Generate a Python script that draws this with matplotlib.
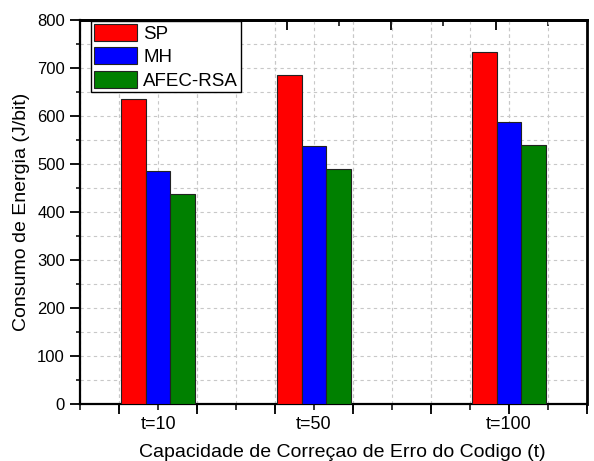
import numpy as np
import matplotlib
matplotlib.use("Agg")
import matplotlib.pyplot as plt
from matplotlib.ticker import MultipleLocator, NullFormatter, FuncFormatter

plt.rcParams['font.family'] = ['Liberation Sans', 'DejaVu Sans']

# data
t_values = [10, 50, 100]
t_labels = ['t=10', 't=50', 't=100']
series_names = ['SP', 'MH', 'AFEC-RSA']
sp = [635, 685, 734]
mh = [485, 537, 587]
afec = [438, 490, 539]
colors = ['#ff0000', '#0000ff', '#008000']

fig = plt.figure(figsize=(5.94, 4.61), dpi=100)
ax = fig.add_axes([0.135, 0.124, 0.853, 0.833])

width = 6.3
x = np.array(t_values, dtype=float)
for i, (vals, name) in enumerate(zip([sp, mh, afec], series_names)):
    ax.bar(x + (i - 1) * width, vals, width=width, color=colors[i],
           edgecolor='#222222', linewidth=0.8, label=name, zorder=3)

ax.set_xlim(-10, 120)
ax.set_ylim(0, 800)

# bottom axis: long ticks every 20, short every 10, labels only at the t values
lab = dict(zip(t_values, t_labels))
ax.xaxis.remove_overlapping_locs = False
ax.xaxis.set_major_locator(MultipleLocator(20))
ax.xaxis.set_major_formatter(NullFormatter())
ax.xaxis.set_minor_locator(MultipleLocator(10))
ax.xaxis.set_minor_formatter(FuncFormatter(lambda v, p: lab.get(int(round(v)), '')))
ax.tick_params(axis='x', which='major', length=7, width=1.3, direction='out')
ax.tick_params(axis='x', which='minor', length=4, width=1.1, direction='out',
               labelsize=13, pad=5)

ax.yaxis.set_major_locator(MultipleLocator(100))
ax.yaxis.set_minor_locator(MultipleLocator(50))
ax.tick_params(axis='y', which='major', labelsize=12, length=7, width=1.3,
               direction='out', pad=4)
ax.tick_params(axis='y', which='minor', length=3, width=1.1, direction='out')

# top axis ticks (own spacing, pointing inwards)
top = ax.secondary_xaxis('top', functions=(lambda v: (v - 2.8) / 13.4,
                                           lambda u: u * 13.4 + 2.8))
top.xaxis.set_major_locator(MultipleLocator(2, offset=1))
top.xaxis.set_minor_locator(MultipleLocator(1))
top.xaxis.set_major_formatter(NullFormatter())
top.tick_params(which='major', direction='in', length=7, width=1.3)
top.tick_params(which='minor', direction='in', length=4, width=1.1)
top.spines['top'].set_linewidth(2.0)

ax.grid(True, which='both', linestyle=(0, (3, 3)), color='#c8c8c8',
        linewidth=0.8, zorder=0)
ax.set_axisbelow(True)

for side in ['left', 'bottom']:
    ax.spines[side].set_linewidth(1.6)
for side in ['top', 'right']:
    ax.spines[side].set_linewidth(2.0)

ax.set_ylabel('Consumo de Energia (J/bit)', fontsize=14)
ax.set_xlabel('Capacidade de Correçao de Erro do Codigo (t)', fontsize=14)
ax.xaxis.set_label_coords(0.517, -0.104)
ax.yaxis.set_label_coords(-0.100, 0.5)

leg = ax.legend(loc='upper left', bbox_to_anchor=(0.021, 0.997), fontsize=13.5,
                frameon=True, fancybox=False, edgecolor='black', framealpha=1,
                handlelength=2.3, handleheight=1.0, borderpad=0.15, labelspacing=0.25,
                handletextpad=0.35, borderaxespad=0.0)
leg.get_frame().set_linewidth(1.0)
leg.set_zorder(5)

fig.savefig('out.png', dpi=100)
